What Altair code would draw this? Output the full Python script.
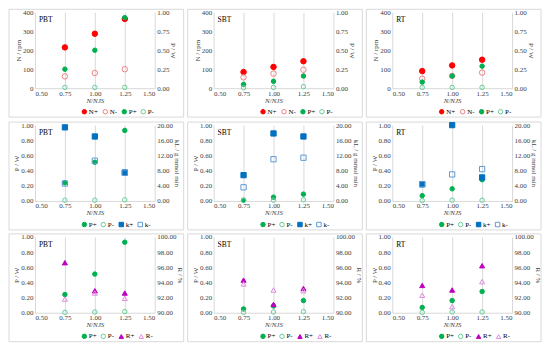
import altair as alt
import pandas as pd

x_vals = [0.75, 1.00, 1.25]
tests = ["PBT", "SBT", "RT"]

# Row 1: N (rpm, left) and P (W, right)
N_plus = {"PBT": [215, 287, 365], "SBT": [85, 112, 142], "RT": [90, 120, 150]}
N_minus = {"PBT": [62, 80, 100], "SBT": [57, 77, 97], "RT": [50, 65, 82]}
P_plus_r1 = {"PBT": [0.25, 0.50, 0.93], "SBT": [0.05, 0.09, 0.16], "RT": [0.08, 0.16, 0.29]}
P_minus_r1 = {"PBT": [0.01, 0.01, 0.01], "SBT": [0.005, 0.01, 0.02], "RT": [0.01, 0.01, 0.01]}

# Row 2: P (W, left) and kL (right)
P_plus_r2 = {"PBT": [0.24, 0.51, 0.93], "SBT": [0.01, 0.05, 0.09], "RT": [0.07, 0.16, 0.28]}
P_minus_r2 = {"PBT": [0.01, 0.01, 0.015], "SBT": [0.005, 0.01, 0.015], "RT": [0.005, 0.01, 0.01]}
k_plus = {"PBT": [19.4, 17.0, 7.5], "SBT": [6.8, 17.8, 17.0], "RT": [4.4, 20.0, 6.2]}
k_minus = {"PBT": [4.6, 10.6, 7.4], "SBT": [3.6, 11.0, 11.4], "RT": [4.4, 7.0, 8.4]}

# Row 3: P (W, left) and R (%, right)
P_plus_r3 = {"PBT": [0.24, 0.51, 0.93], "SBT": [0.05, 0.09, 0.16], "RT": [0.07, 0.16, 0.28]}
P_minus_r3 = {"PBT": [0.005, 0.01, 0.015], "SBT": [0.005, 0.01, 0.015], "RT": [0.005, 0.01, 0.01]}
R_plus = {"PBT": [96.6, 92.9, 92.6], "SBT": [94.3, 91.1, 93.2], "RT": [93.6, 93.0, 96.2]}
R_minus = {"PBT": [91.8, 92.6, 91.9], "SBT": [93.8, 93.0, 92.9], "RT": [92.3, 90.8, 94.1]}

FONT = "Liberation Serif"
W, H = 120, 76

STYLE = {
    "N+": ("#FF0000", "#FF0000", "circle"),
    "N-": ("#F08080", "transparent", "circle"),
    "P+": ("#00B050", "#00B050", "circle"),
    "P-": ("#66CC99", "transparent", "circle"),
    "k+": ("#0070C0", "#0070C0", "square"),
    "k-": ("#5B9BD5", "transparent", "square"),
    "R+": ("#C000C0", "#C000C0", "triangle-up"),
    "R-": ("#E08BE0", "transparent", "triangle-up"),
}


def frame(series):
    rows = []
    for name, vals in series:
        for xv, v in zip(x_vals, vals):
            rows.append({"x": xv, "v": v, "s": name})
    return pd.DataFrame(rows)


def panel(test, left_series, right_series, left_ax, right_ax, left_size, right_size):
    dom = [n for n, _ in left_series] + [n for n, _ in right_series]
    leg = alt.Legend(title=None, orient="none", direction="horizontal", legendX=W / 2 - 14, legendY=H + 20)
    stroke = alt.Stroke("s:N", scale=alt.Scale(domain=dom, range=[STYLE[d][0] for d in dom]), legend=leg)
    fill = alt.Fill("s:N", scale=alt.Scale(domain=dom, range=[STYLE[d][1] for d in dom]), legend=leg)
    shape = alt.Shape("s:N", scale=alt.Scale(domain=dom, range=[STYLE[d][2] for d in dom]), legend=leg)
    x = alt.X("x:Q", scale=alt.Scale(domain=[0.5, 1.5], nice=False),
              axis=alt.Axis(values=[0.5, 0.75, 1.0, 1.25, 1.5], format=".2f", title="N/NJS",
                            grid=True, gridColor="#D9D9D9", ticks=False, domainColor="#D9D9D9",
                            labelPadding=1, titlePadding=0, titleFontStyle="italic"))

    def yenc(ax, orient):
        lo, hi, vals, fmt, title = ax
        return alt.Y("v:Q", scale=alt.Scale(domain=[lo, hi], nice=False, zero=False),
                     axis=alt.Axis(orient=orient, values=vals, format=fmt, title=title, grid=False,
                                   domain=False, ticks=False, labelPadding=2, titlePadding=1,
                                   titleAngle=-90 if orient == "left" else 90))

    border = alt.Chart(pd.DataFrame({"a": [0]})).mark_rect(
        fillOpacity=0, stroke="#D9D9D9", strokeWidth=1
    ).encode(x=alt.value(-26), x2=alt.value(W + 29), y=alt.value(-3), y2=alt.value(H + 29))
    label = alt.Chart(pd.DataFrame({"t": [test]})).mark_text(
        align="left", baseline="top", font=FONT, fontSize=7.5, color="#000000"
    ).encode(text="t:N", x=alt.value(4), y=alt.value(4))
    left = alt.Chart(frame(left_series)).mark_point(size=left_size, strokeWidth=1, opacity=1).encode(
        x=x, y=yenc(left_ax, "left"), stroke=stroke, fill=fill, shape=shape)
    right = alt.Chart(frame(right_series)).mark_point(size=right_size, strokeWidth=1, opacity=1).encode(
        x=x, y=yenc(right_ax, "right"), stroke=stroke, fill=fill, shape=shape)
    return alt.layer(border, left, right, label).resolve_scale(y="independent").properties(width=W, height=H)


N_AX = (0, 400, [0, 100, 200, 300, 400], "d", "N / rpm")
P_AX4 = (0, 1, [0, 0.25, 0.5, 0.75, 1.0], ".2f", "P / W")
P_AX5 = (0, 1, [0, 0.2, 0.4, 0.6, 0.8, 1.0], ".2f", "P / W")
K_AX = (0, 20, [0, 4, 8, 12, 16, 20], ".2f", "kL / g mmol min")
R_AX = (90, 100, [90, 92, 94, 96, 98, 100], ".2f", "R / %")

res = dict(x="independent", y="independent", stroke="independent", fill="independent", shape="independent")

rows = []
rows.append(alt.hconcat(*[panel(t, [("N+", N_plus[t]), ("N-", N_minus[t])],
                                  [("P+", P_plus_r1[t]), ("P-", P_minus_r1[t])],
                                  N_AX, P_AX4, 30, 20) for t in tests], spacing=2).resolve_scale(**res))
rows.append(alt.hconcat(*[panel(t, [("P+", P_plus_r2[t]), ("P-", P_minus_r2[t])],
                                  [("k+", k_plus[t]), ("k-", k_minus[t])],
                                  P_AX5, K_AX, 20, 28) for t in tests], spacing=2).resolve_scale(**res))
rows.append(alt.hconcat(*[panel(t, [("P+", P_plus_r3[t]), ("P-", P_minus_r3[t])],
                                  [("R+", R_plus[t]), ("R-", R_minus[t])],
                                  P_AX5, R_AX, 20, 26) for t in tests], spacing=2).resolve_scale(**res))

chart = alt.vconcat(*rows, spacing=2).resolve_scale(**res).properties(padding=0).configure(
    font=FONT
).configure_view(strokeWidth=0).configure_axis(
    labelFont=FONT, titleFont=FONT, labelFontSize=7, titleFontSize=7, labelColor="#404040",
    titleColor="#404040", titleFontWeight="normal"
).configure_legend(
    labelFont=FONT, labelFontSize=7, symbolSize=20, symbolStrokeWidth=1, columnPadding=2,
    padding=0, labelOffset=1, rowPadding=0, labelLimit=20
)

chart.save("out.html", embed_options={"renderer": "svg", "actions": False})
